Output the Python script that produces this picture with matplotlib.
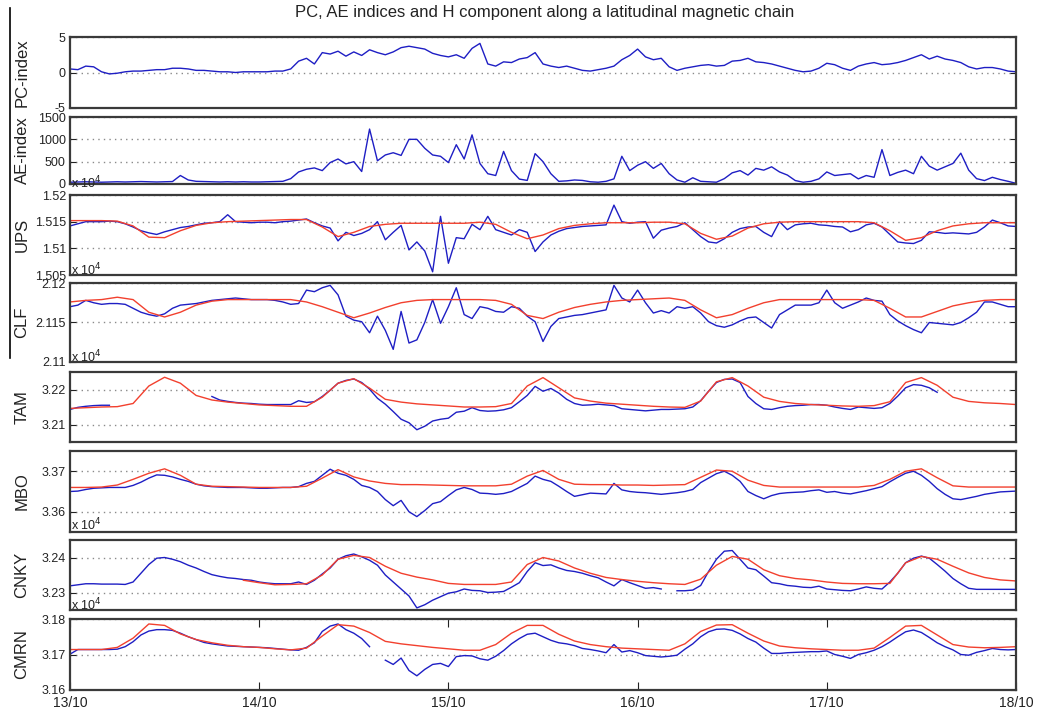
import matplotlib
matplotlib.use("Agg")
import matplotlib.pyplot as plt
from matplotlib.lines import Line2D
from matplotlib.ticker import FixedLocator, FormatStrFormatter
import numpy as np

plt.rcParams["font.family"] = ["Liberation Sans", "DejaVu Sans"]

# hourly samples (blue, measured) and 2-hourly samples (red, reference curve)
# from 13/10 00h to 18/10 00h
hours_meas = np.arange(0, 121, 1)
hours_ref = np.arange(0, 121, 2)
day_labels = ["13/10", "14/10", "15/10", "16/10", "17/10", "18/10"]
nan = np.nan

pc_index = [
    0.5, 0.4, 0.9, 0.8, 0.1, -0.2, -0.1, 0.1, 0.2, 0.2, 0.3, 0.4,
    0.4, 0.6, 0.6, 0.5, 0.3, 0.3, 0.2, 0.1, 0.1, 0.0, 0.1, 0.1,
    0.1, 0.1, 0.2, 0.2, 0.5, 1.6, 2.0, 1.2, 2.8, 2.6, 3.0, 2.3,
    2.9, 2.4, 3.2, 2.8, 2.5, 2.9, 3.5, 3.7, 3.5, 3.3, 2.7, 2.4,
    2.2, 2.5, 2.0, 3.4, 4.1, 1.2, 0.9, 1.5, 1.4, 1.9, 2.1, 2.8,
    1.2, 0.9, 0.7, 0.9, 0.6, 0.3, 0.2, 0.4, 0.6, 0.9, 1.8, 2.4,
    3.3, 2.2, 1.8, 2.0, 0.8, 0.3, 0.6, 0.8, 1.0, 1.1, 0.9, 1.0,
    1.6, 1.7, 2.0, 1.5, 1.4, 1.2, 0.9, 0.6, 0.3, 0.1, 0.2, 0.6,
    1.3, 1.1, 0.6, 0.3, 0.9, 1.2, 1.4, 1.1, 1.2, 1.4, 1.7, 2.1,
    2.5, 1.9, 2.3, 1.9, 1.7, 1.4, 0.8, 0.5, 0.7, 0.7, 0.5, 0.2,
    0.1]

ae_index = [
    40, 45, 50, 45, 40, 45, 50, 45, 50, 55, 50, 45,
    50, 55, 190, 90, 60, 55, 50, 45, 50, 45, 50, 45,
    45, 50, 55, 60, 120, 270, 330, 360, 300, 480, 560, 450,
    500, 280, 1230, 520, 650, 700, 640, 1000, 1000, 800, 650, 620,
    480, 880, 560, 1100, 460, 230, 190, 730, 300, 110, 80, 680,
    500, 230, 60, 70, 90, 80, 50, 40, 60, 115, 620, 300,
    420, 500, 350, 460, 230, 90, 40, 140, 60, 50, 40, 120,
    250, 300, 200, 350, 310, 385, 270, 200, 77, 40, 60, 115,
    270, 190, 210, 230, 115, 190, 150, 770, 190, 260, 310, 230,
    620, 400, 310, 385, 460, 690, 310, 120, 77, 150, 100, 60,
    15]

# H component, nT
ups_meas = [
    15142, 15146, 15150, 15150, 15150, 15151, 15150, 15146, 15140, 15133, 15129, 15126,
    15131, 15135, 15139, 15141, 15144, 15147, 15148, 15150, 15163, 15150, 15149, 15148,
    15149, 15149, 15148, 15150, 15151, 15153, 15155, 15148, 15142, 15138, 15114, 15130,
    15124, 15128, 15135, 15150, 15116, 15130, 15143, 15097, 15112, 15095, 15056, 15160,
    15072, 15120, 15118, 15145, 15135, 15160, 15135, 15130, 15125, 15135, 15130, 15094,
    15112, 15125, 15132, 15137, 15139, 15141, 15142, 15143, 15144, 15181, 15150, 15147,
    15149, 15150, 15119, 15134, 15138, 15141, 15148, 15135, 15122, 15112, 15110, 15118,
    15130, 15137, 15140, 15141, 15130, 15122, 15150, 15135, 15144, 15146, 15147, 15144,
    15143, 15141, 15140, 15131, 15135, 15144, 15147, 15140, 15126, 15112, 15110, 15109,
    15115, 15131, 15130, 15128, 15129, 15128, 15127, 15130, 15140, 15153, 15148, 15142,
    15141]
ups_ref = [
    15152, 15152, 15152, 15151, 15142, 15121, 15120, 15133, 15143, 15148, 15150, 15151,
    15152, 15153, 15154, 15154, 15140, 15122, 15130, 15141, 15145, 15147, 15147, 15147,
    15147, 15147, 15149, 15145, 15130, 15118, 15125, 15137, 15143, 15146, 15148, 15148,
    15148, 15149, 15149, 15146, 15128, 15117, 15123, 15138, 15146, 15149, 15150, 15150,
    15150, 15150, 15150, 15148, 15133, 15115, 15120, 15133, 15142, 15146, 15148, 15148,
    15148]

clf_meas = [
    21170, 21172, 21178, 21175, 21173, 21174, 21174, 21173, 21168, 21163, 21160, 21158,
    21161, 21168, 21172, 21173, 21174, 21176, 21178, 21179, 21180, 21181, 21180, 21179,
    21179, 21179, 21178, 21176, 21173, 21174, 21191, 21189, 21194, 21197, 21185, 21158,
    21153, 21151, 21137, 21158, 21140, 21116, 21164, 21124, 21128, 21150, 21179, 21149,
    21170, 21194, 21160, 21155, 21170, 21168, 21164, 21163, 21170, 21168, 21158, 21151,
    21126, 21145, 21155, 21157, 21159, 21160, 21162, 21164, 21166, 21197, 21181, 21176,
    21191, 21175, 21162, 21165, 21162, 21170, 21168, 21170, 21162, 21151, 21146, 21144,
    21147, 21152, 21156, 21157, 21150, 21143, 21160, 21166, 21172, 21172, 21172, 21175,
    21191, 21175, 21168, 21172, 21176, 21181, 21178, 21177, 21160, 21152, 21146, 21141,
    21137, 21150, 21149, 21148, 21147, 21150, 21156, 21163, 21176, 21176, 21173, 21170,
    21170]
clf_ref = [
    21176, 21178, 21179, 21182, 21179, 21163, 21157, 21163, 21172, 21177, 21179, 21179,
    21179, 21179, 21179, 21176, 21170, 21163, 21156, 21162, 21169, 21175, 21178, 21179,
    21179, 21179, 21179, 21178, 21173, 21159, 21155, 21163, 21169, 21173, 21176, 21178,
    21179, 21180, 21181, 21178, 21166, 21156, 21160, 21168, 21175, 21179, 21179, 21179,
    21179, 21179, 21179, 21178, 21168, 21157, 21157, 21164, 21171, 21175, 21178, 21179,
    21179]

tam_meas = [
    32143, 32149, 32152, 32154, 32155, 32155, nan, nan, nan, nan, nan, nan,
    nan, nan, nan, nan, nan, nan, 32180, 32170, 32166, 32163, 32161, 32160,
    32158, 32157, 32157, 32157, 32157, 32168, 32163, 32165, 32180, 32198, 32218, 32226,
    32230, 32220, 32201, 32175, 32158, 32137, 32115, 32105, 32085, 32095, 32110, 32115,
    32118, 32135, 32138, 32148, 32140, 32138, 32139, 32142, 32148, 32165, 32183, 32209,
    32195, 32203, 32190, 32172, 32160, 32155, 32156, 32158, 32156, 32154, 32145, 32143,
    32141, 32139, 32141, 32143, 32143, 32144, 32145, 32150, 32168, 32195, 32220, 32229,
    32230, 32220, 32180, 32160, 32145, 32143, 32148, 32152, 32154, 32155, 32157, 32157,
    32155, 32150, 32146, 32143, 32150, 32148, 32146, 32148, 32160, 32181, 32205, 32214,
    32212, 32205, 32192, nan, nan, nan, nan, nan, nan, nan, nan, nan,
    nan]
tam_ref = [
    32146, 32148, 32150, 32151, 32160, 32210, 32235, 32218, 32183, 32170, 32164, 32160,
    32156, 32154, 32152, 32152, 32178, 32218, 32231, 32204, 32172, 32164, 32159, 32156,
    32153, 32150, 32150, 32151, 32160, 32210, 32234, 32205, 32176, 32167, 32161, 32158,
    32155, 32152, 32150, 32149, 32167, 32222, 32234, 32210, 32178, 32166, 32160, 32157,
    32155, 32153, 32152, 32154, 32165, 32220, 32234, 32212, 32178, 32166, 32162, 32160,
    32157]

mbo_meas = [
    33650, 33651, 33655, 33658, 33659, 33660, 33660, 33660, 33665, 33673, 33683, 33691,
    33690, 33686, 33680, 33675, 33668, 33664, 33662, 33661, 33660, 33660, 33660, 33659,
    33658, 33658, 33659, 33660, 33660, 33662, 33670, 33675, 33690, 33705, 33695, 33690,
    33680, 33665, 33660, 33650, 33630, 33615, 33628, 33600, 33588, 33603, 33620, 33625,
    33640, 33654, 33660, 33655, 33646, 33645, 33643, 33645, 33650, 33660, 33670, 33688,
    33680, 33675, 33663, 33650, 33638, 33642, 33646, 33645, 33644, 33670, 33654, 33650,
    33648, 33647, 33645, 33643, 33645, 33647, 33650, 33655, 33672, 33683, 33694, 33700,
    33690, 33675, 33650, 33640, 33632, 33640, 33645, 33647, 33648, 33649, 33652, 33654,
    33648, 33650, 33646, 33644, 33648, 33652, 33657, 33662, 33674, 33685, 33695, 33700,
    33690, 33675, 33657, 33643, 33632, 33630, 33634, 33638, 33643, 33646, 33649, 33650,
    33651]
mbo_ref = [
    33660, 33660, 33661, 33666, 33680, 33695, 33706, 33690, 33668, 33663, 33662, 33661,
    33660, 33660, 33660, 33663, 33683, 33704, 33686, 33676, 33670, 33667, 33667, 33666,
    33665, 33664, 33664, 33664, 33668, 33688, 33702, 33680, 33668, 33667, 33667, 33666,
    33666, 33665, 33666, 33667, 33685, 33703, 33700, 33678, 33665, 33661, 33661, 33661,
    33661, 33661, 33661, 33665, 33680, 33700, 33706, 33684, 33664, 33661, 33661, 33661,
    33661]

cnky_meas = [
    32319, 32322, 32325, 32325, 32324, 32324, 32324, 32323, 32330, 32355, 32380, 32398,
    32400, 32395, 32388, 32378, 32370, 32360, 32351, 32346, 32342, 32340, 32337, 32335,
    32330, 32327, 32325, 32325, 32325, 32330, 32323, 32335, 32353, 32370, 32395, 32405,
    32410, 32402, 32392, 32378, 32350, 32330, 32310, 32290, 32256, 32265, 32278, 32288,
    32298, 32302, 32310, 32306, 32305, 32300, 32301, 32303, 32315, 32328, 32360, 32385,
    32377, 32379, 32370, 32363, 32360, 32355, 32348, 32342, 32330, 32319, 32337, 32328,
    32320, 32312, 32314, 32310, nan, 32305, 32305, 32307, 32320, 32360, 32395, 32418,
    32420, 32395, 32370, 32365, 32347, 32328, 32325, 32320, 32318, 32315, 32314, 32318,
    32310, 32308, 32306, 32305, 32310, 32316, 32312, 32310, 32330, 32355, 32385, 32398,
    32404, 32398, 32380, 32361, 32340, 32325, 32312, 32309, 32309, 32309, 32309, 32309,
    32309]
cnky_ref = [
    nan, nan, nan, nan, nan, nan, nan, nan, nan, nan, nan, 32335,
    32328, 32322, 32323, 32325, 32350, 32395, 32406, 32400, 32375, 32355, 32344, 32336,
    32326, 32323, 32323, 32323, 32330, 32380, 32400, 32390, 32370, 32355, 32343, 32337,
    32332, 32328, 32325, 32323, 32338, 32378, 32403, 32395, 32365, 32348, 32340, 32336,
    32330, 32326, 32325, 32325, 32326, 32385, 32403, 32395, 32375, 32356, 32343, 32336,
    32333]

cmrn_meas = [
    31701, 31714, 31714, 31714, 31714, 31714, 31715, 31722, 31736, 31755, 31766, 31770,
    31770, 31768, 31760, 31750, 31742, 31734, 31730, 31727, 31724, 31723, 31722, 31721,
    31720, 31719, 31717, 31715, 31713, 31712, 31720, 31733, 31765, 31780, 31786, 31770,
    31760, 31745, 31722, nan, 31684, 31672, 31690, 31655, 31640, 31658, 31672, 31675,
    31666, 31694, 31697, 31696, 31688, 31684, 31695, 31711, 31730, 31745, 31757, 31760,
    31750, 31740, 31733, 31730, 31725, 31717, 31714, 31710, 31705, 31728, 31707, 31711,
    31705, 31697, 31695, 31693, 31695, 31698, 31715, 31730, 31750, 31764, 31771, 31772,
    31768, 31758, 31745, 31735, 31718, 31703, 31703, 31705, 31706, 31707, 31708, 31708,
    31710, 31700, 31695, 31689, 31700, 31705, 31712, 31722, 31735, 31750, 31764, 31769,
    31762, 31748, 31733, 31722, 31713, 31700, 31698, 31706, 31711, 31717, 31714, 31713,
    31714]
cmrn_ref = [
    31714, 31714, 31714, 31720, 31746, 31786, 31782, 31758, 31742, 31733, 31726, 31722,
    31720, 31716, 31713, 31718, 31752, 31784, 31780, 31762, 31737, 31730, 31725, 31720,
    31716, 31712, 31712, 31728, 31760, 31782, 31782, 31757, 31738, 31728, 31722, 31718,
    31716, 31714, 31712, 31730, 31765, 31783, 31784, 31760, 31738, 31724, 31719, 31716,
    31714, 31712, 31712, 31718, 31748, 31780, 31782, 31755, 31728, 31721, 31719, 31720,
    31722]

BLUE = "#1e1ec4"
RED = "#f2402e"
FRAME = "#3a3a3a"
W, H = 1038, 715


def px_box(top, bottom, left=70, right=1016):
    # pixel frame -> figure fraction [l, b, w, h]
    return [left / W, 1 - bottom / H, (right - left) / W, (bottom - top) / H]


def style_axes(ax, ylim, yticks, fmt):
    ax.set_xlim(0, 120)
    ax.set_ylim(*ylim)
    ax.yaxis.set_major_locator(FixedLocator(yticks))
    ax.yaxis.set_major_formatter(FormatStrFormatter(fmt))
    ax.grid(True, axis="y", linestyle=(0, (1, 3)), color="#8a8a8a", linewidth=1.0)
    ax.tick_params(axis="y", direction="in", left=True, right=True, length=4,
                   labelsize=9, pad=3, colors="#222222")
    ax.set_xticks([])
    for spine in ax.spines.values():
        spine.set_linewidth(1.6)
        spine.set_color(FRAME)


def main():
    fig = plt.figure(figsize=(W / 100, H / 100), dpi=100)

    scale = 1e4
    panels = [
        ("PC-index", (37, 108), pc_index, None, (-5, 5), [-5, 0, 5], "%g", 1),
        ("AE-index", (117, 184), ae_index, None, (0, 1500), [0, 500, 1000, 1500], "%g", 1),
        ("UPS", (195, 275), ups_meas, ups_ref, (1.505, 1.52), [1.505, 1.51, 1.515, 1.52], "%g", scale),
        ("CLF", (283, 362), clf_meas, clf_ref, (2.11, 2.12), [2.11, 2.115, 2.12], "%g", scale),
        ("TAM", (372, 442), tam_meas, tam_ref, (3.205, 3.225), [3.21, 3.22], "%.2f", scale),
        ("MBO", (451, 532), mbo_meas, mbo_ref, (3.355, 3.375), [3.36, 3.37], "%.2f", scale),
        ("CNKY", (540, 610), cnky_meas, cnky_ref, (3.225, 3.245), [3.23, 3.24], "%.2f", scale),
        ("CMRN", (619, 690), cmrn_meas, cmrn_ref, (3.16, 3.18), [3.16, 3.17, 3.18], "%.2f", scale),
    ]

    axes = []
    for name, (top, bottom), meas, ref, ylim, yticks, fmt, div in panels:
        ax = fig.add_axes(px_box(top, bottom))
        ax.plot(hours_meas, np.asarray(meas, dtype=float) / div, color=BLUE, linewidth=1.0)
        if ref is not None:
            ax.plot(hours_ref, np.asarray(ref, dtype=float) / div, color=RED, linewidth=1.0)
        style_axes(ax, ylim, yticks, fmt)
        fig.text(22 / W, 1 - (top + bottom) / 2 / H, name, rotation=90,
                 ha="center", va="center", fontsize=12, color="#222222")
        axes.append(ax)

    ax = axes[-1]
    ax.set_xticks(np.arange(0, 121, 24), labels=day_labels)
    ax.tick_params(axis="x", direction="in", top=True, bottom=True, length=6,
                   labelsize=10, pad=4, colors="#222222")

    # exponent markers as drawn by the original plotting tool
    for y_px in (183, 270, 357, 525, 605):
        fig.text(71 / W, 1 - y_px / H, r"x 10$^4$", fontsize=9, ha="left",
                 va="center", color="#222222")

    fig.text(545 / W, 1 - 12 / H,
             "PC, AE indices and H component along a latitudinal magnetic chain",
             ha="center", va="center", fontsize=12, color="#222222")

    fig.add_artist(Line2D([10 / W, 10 / W], [1 - 8 / H, 1 - 358 / H],
                          transform=fig.transFigure, color="black", linewidth=1.2))

    fig.savefig("out.png", dpi=100)
    plt.close(fig)


if __name__ == "__main__":
    main()
